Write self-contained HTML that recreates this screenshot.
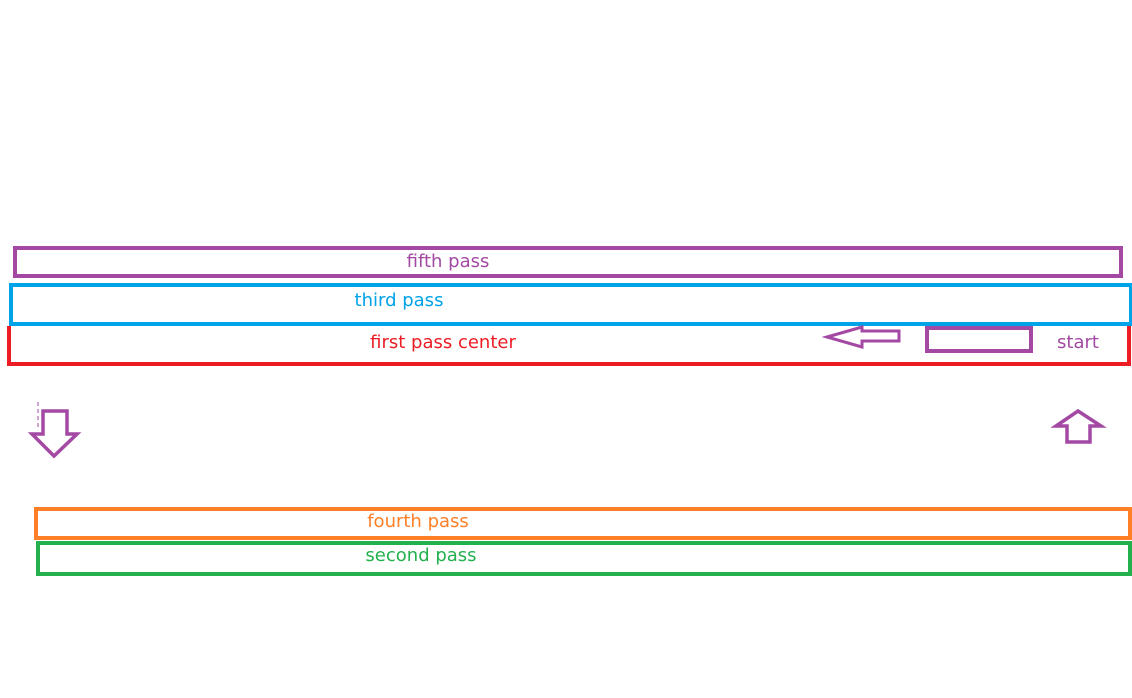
<!DOCTYPE html>
<html><head><meta charset="utf-8"><style>
html,body{margin:0;padding:0;background:#fff;width:1132px;height:698px;overflow:hidden}
svg{display:block}
text{font-family:"DejaVu Sans","Liberation Sans",sans-serif;font-size:18px;text-anchor:middle;dominant-baseline:middle}
</style></head><body>
<svg width="1132" height="698" viewBox="0 0 1132 698" xmlns="http://www.w3.org/2000/svg">
<g fill="none" stroke-width="4" stroke-linejoin="miter">
<rect x="15" y="248" width="1106" height="28" stroke="#a349a4"/>
<path d="M9 326 V364 H1129 V326" stroke="#ed1c24"/>
<rect x="11" y="285" width="1120" height="39" stroke="#00a2e8"/>
<rect x="36" y="509" width="1094" height="29" stroke="#ff7f27"/>
<rect x="38" y="543" width="1092" height="31" stroke="#22b14c"/>
<rect x="927" y="328" width="104" height="23" stroke="#a349a4"/>
<path d="M827 337 L862 327 L862 331 L899 331 L899 341 L862 341 L862 347 Z" stroke="#a349a4" stroke-width="3"/>
<path d="M1078 411 L1101 426 L1090 426 L1090 442 L1067 442 L1067 426 L1056 426 Z" stroke="#a349a4" stroke-width="3.5"/>
<path d="M43 411 L67 411 L67 434 L77 434 L54 456 L32 434 L43 434 Z" stroke="#a349a4" stroke-width="3.5"/>
<line x1="38" y1="402" x2="38" y2="428" stroke="#a349a4" stroke-width="1" stroke-dasharray="4 3"/>
</g>
<text x="448" y="262" fill="#a349a4">fifth pass</text>
<text x="399" y="301" fill="#00a2e8">third pass</text>
<text x="443" y="343" fill="#ed1c24">first pass center</text>
<text x="1078" y="343" fill="#a349a4">start</text>
<text x="418" y="522" fill="#ff7f27">fourth pass</text>
<text x="421" y="556" fill="#22b14c">second pass</text>
</svg>
</body></html>
